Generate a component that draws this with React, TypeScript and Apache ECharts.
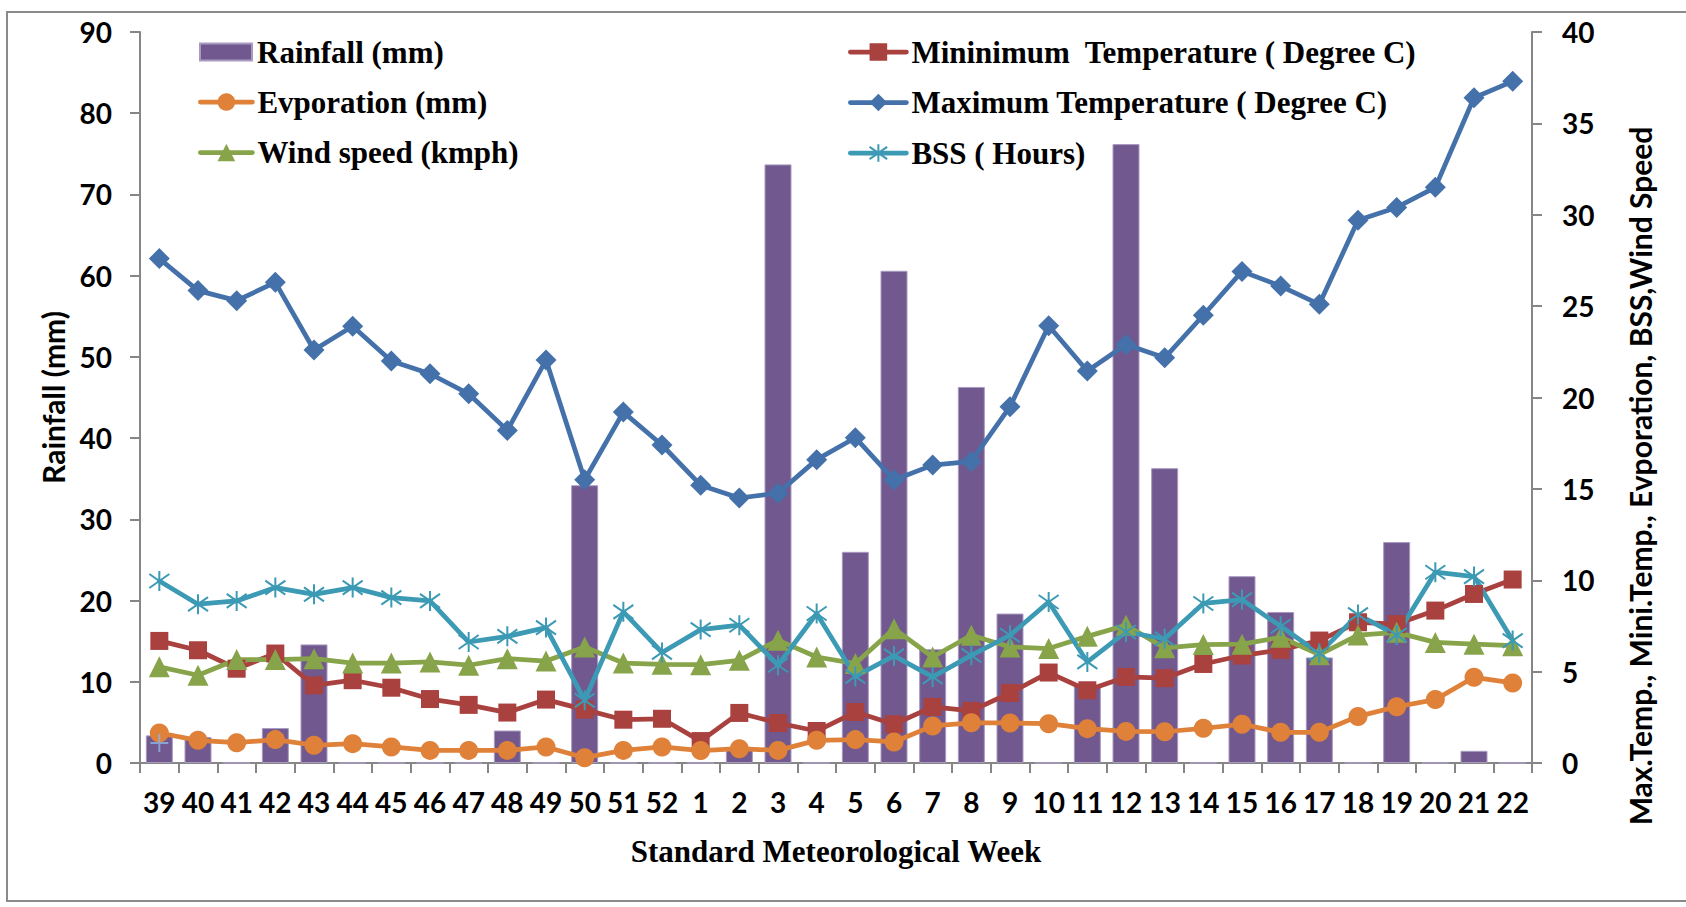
import React, { useEffect, useRef } from "react";
import * as echarts from "echarts";

const weeks = ["39","40","41","42","43","44","45","46","47","48","49","50","51","52","1","2","3","4","5","6","7","8","9","10","11","12","13","14","15","16","17","18","19","20","21","22"];

const rainfall = [3.4, 3.2, 0, 4.3, 14.6, 0, 0, 0, 0, 4.0, 0, 34.2, 0, 0, 0, 1.8, 73.7, 0, 26.0, 60.6, 14.0, 46.3, 18.4, 0, 9.5, 76.2, 36.3, 0, 23.0, 18.6, 13.0, 0, 27.2, 0, 1.5, 0];

const minTemp = [6.68, 6.17, 5.16, 5.99, 4.25, 4.53, 4.12, 3.5, 3.18, 2.76, 3.47, 2.92, 2.37, 2.42, 1.2, 2.74, 2.19, 1.75, 2.79, 2.12, 3.07, 2.85, 3.83, 4.95, 3.98, 4.71, 4.64, 5.42, 5.88, 6.19, 6.7, 7.7, 7.6, 8.34, 9.25, 10.04];

const evaporation = [1.64, 1.24, 1.11, 1.28, 0.97, 1.06, 0.88, 0.69, 0.69, 0.69, 0.88, 0.29, 0.69, 0.88, 0.68, 0.78, 0.69, 1.24, 1.28, 1.15, 2.03, 2.2, 2.19, 2.15, 1.88, 1.73, 1.71, 1.9, 2.12, 1.68, 1.68, 2.55, 3.08, 3.47, 4.69, 4.38];

const maxTemp = [27.6, 25.85, 25.3, 26.3, 22.6, 23.9, 22.0, 21.3, 20.2, 18.2, 22.05, 15.5, 19.2, 17.4, 15.2, 14.5, 14.76, 16.6, 17.8, 15.49, 16.3, 16.5, 19.5, 23.93, 21.45, 22.9, 22.17, 24.5, 26.9, 26.1, 25.1, 29.7, 30.4, 31.5, 36.4, 37.3];

const windSpeed = [5.26, 4.8, 5.66, 5.66, 5.71, 5.47, 5.47, 5.53, 5.35, 5.71, 5.58, 6.35, 5.47, 5.4, 5.38, 5.62, 6.72, 5.8, 5.44, 7.35, 5.8, 6.99, 6.35, 6.26, 6.93, 7.54, 6.3, 6.48, 6.5, 6.88, 5.93, 7.0, 7.15, 6.6, 6.5, 6.42];

const bss = [9.96, 8.69, 8.87, 9.6, 9.23, 9.6, 9.05, 8.87, 6.62, 6.93, 7.41, 3.43, 8.27, 6.05, 7.3, 7.54, 5.35, 8.18, 4.74, 5.86, 4.71, 5.89, 6.99, 8.81, 5.53, 7.17, 6.8, 8.73, 8.94, 7.48, 6.0, 8.12, 7.0, 10.44, 10.2, 6.7];

const extraMarkerWeek = "39";
const extraMarkerValue = 1.1;

const leftTicks = { min: 0, max: 90, interval: 10 };
const rightTicks = { min: 0, max: 40, interval: 5 };

const names = {
  rain: "Rainfall (mm)",
  evap: "Evporation (mm)",
  wind: "Wind speed (kmph)",
  min: "Mininimum  Temperature ( Degree C)",
  max: "Maximum Temperature ( Degree C)",
  bss: "BSS ( Hours)",
};

const AXIS_GRAY = "#868686";
const SANS = "Lato";
const SERIF = "Liberation Serif";

const starPath = "path://M10,0L10,20M0,3L20,17M0,17L20,3";
const plusPath = "path://M10,0L10,20M0,10L20,10";

export default function App() {
  const ref = useRef<HTMLDivElement>(null);

  useEffect(() => {
    if (!ref.current) return;
    const chart = echarts.init(ref.current, undefined, { renderer: "svg" });

    const legendText = {
      fontFamily: SERIF,
      fontWeight: "bold" as const,
      fontSize: 31,
      color: "#000",
      lineHeight: 31,
    };
    const tickLabel = {
      fontFamily: SANS,
      fontWeight: "bold" as const,
      fontSize: 28,
      color: "#000",
    };

    const LINE_W = 4.75;

    const lineBase = (name: string, data: number[], color: string, symbol: string, size: number) => ({
      name,
      type: "line" as const,
      yAxisIndex: 1,
      data,
      symbol,
      symbolSize: size,
      lineStyle: { color, width: LINE_W, cap: "round" as const, join: "round" as const },
      itemStyle: { color, borderColor: color, borderWidth: 0 },
      z: 3,
    });

    const legendCommon = {
      orient: "vertical",
      padding: 0,
      itemHeight: 22,
      itemGap: 19.5,
      textStyle: legendText,
      lineStyle: { width: LINE_W, cap: "round" },
    };

    const option: any = {
      animation: false,
      backgroundColor: "#ffffff",
      grid: { left: 140, right: 154, top: 32, bottom: 144 },
      legend: [
        {
          ...legendCommon,
          data: [{ name: names.rain, icon: "rect" }],
          left: 199,
          top: 36.5,
          itemWidth: 52,
          itemHeight: 17,
        },
        {
          ...legendCommon,
          data: [names.evap, names.wind],
          left: 198,
          top: 86.5,
          itemWidth: 52,
        },
        {
          ...legendCommon,
          data: [names.min, names.max, names.bss],
          left: 848,
          top: 36.5,
          itemWidth: 56,
        },
      ],
      xAxis: {
        type: "category",
        data: weeks,
        boundaryGap: true,
        axisLine: { lineStyle: { color: AXIS_GRAY, width: 2 } },
        axisTick: { show: true, length: 10, lineStyle: { color: AXIS_GRAY, width: 2 } },
        axisLabel: { ...tickLabel, margin: 25, interval: 0 },
        splitLine: { show: false },
        name: "Standard Meteorological Week",
        nameLocation: "middle",
        nameGap: 73,
        nameTextStyle: { fontFamily: SERIF, fontWeight: "bold", fontSize: 31, color: "#000" },
      },
      yAxis: [
        {
          type: "value",
          position: "left",
          ...leftTicks,
          axisLine: { show: true, lineStyle: { color: AXIS_GRAY, width: 2 } },
          axisTick: { show: true, length: 10, lineStyle: { color: AXIS_GRAY, width: 2 } },
          axisLabel: { ...tickLabel, margin: 28 },
          splitLine: { show: false },
          name: "Rainfall (mm)",
          nameLocation: "middle",
          nameGap: 72,
          nameTextStyle: { fontFamily: SANS, fontWeight: "bold", fontSize: 30, color: "#000" },
        },
        {
          type: "value",
          position: "right",
          ...rightTicks,
          axisLine: { show: true, lineStyle: { color: AXIS_GRAY, width: 2 } },
          axisTick: { show: true, length: 10, lineStyle: { color: AXIS_GRAY, width: 2 } },
          axisLabel: { ...tickLabel, margin: 30 },
          splitLine: { show: false },
        },
      ],
      graphic: [
        {
          type: "rect",
          silent: true,
          z: -10,
          shape: { x: 7, y: 12, width: 1700, height: 889 },
          style: { fill: "none", stroke: "#8a8a8a", lineWidth: 2 },
        },
        {
          type: "text",
          x: 1640,
          y: 476,
          rotation: Math.PI / 2,
          style: {
            text: "Max.Temp., Mini.Temp., Evporation, BSS,Wind Speed",
            font: `bold 30px ${SANS}`,
            fill: "#000",
            textAlign: "center",
            textVerticalAlign: "middle",
          },
        },
      ],
      series: [
        {
          name: names.rain,
          type: "bar",
          yAxisIndex: 0,
          data: rainfall,
          barWidth: 27,
          itemStyle: { color: "#71588F", borderColor: "#A99BC0", borderWidth: 1 },
          z: 2,
        },
        lineBase(names.min, minTemp, "#A9413F", "rect", 18),
        lineBase(names.evap, evaporation, "#DF8139", "circle", 19),
        lineBase(names.max, maxTemp, "#4471AA", "diamond", 21),
        lineBase(names.wind, windSpeed, "#88A44A", "triangle", 21),
        {
          ...lineBase(names.bss, bss, "#3C9AB4", starPath, 20),
          itemStyle: { color: "#3C9AB4", borderColor: "#3C9AB4", borderWidth: 2 },
        },
        {
          name: "marker",
          type: "scatter",
          yAxisIndex: 1,
          data: [[extraMarkerWeek, extraMarkerValue]],
          symbol: plusPath,
          symbolSize: 18,
          itemStyle: { color: "#8EB4E3", borderColor: "#8EB4E3", borderWidth: 2 },
          z: 4,
        },
      ],
    };

    chart.setOption(option);
    return () => chart.dispose();
  }, []);

  return (
    <div
      ref={ref}
      style={{ position: "fixed", left: 0, top: 0, width: 1686, height: 907, background: "#fff" }}
    />
  );
}
